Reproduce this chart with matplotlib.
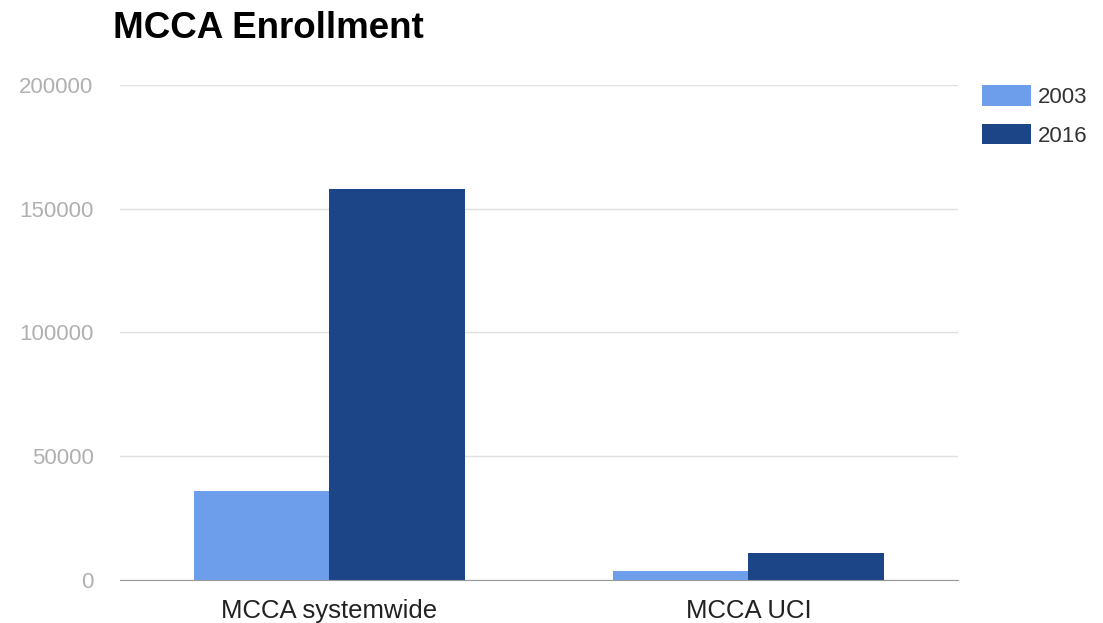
import numpy as np
import matplotlib.pyplot as plt

categories = ['MCCA systemwide', 'MCCA UCI']
years = ['2003', '2016']
enroll_2003 = [36000, 3600]
enroll_2016 = [158000, 10800]
colors = ['#6d9eeb', '#1c4587']

plt.rcParams['font.family'] = ['Liberation Sans', 'DejaVu Sans']

fig = plt.figure(figsize=(11.03, 6.23), dpi=100)
ax = fig.add_axes([0.1088, 0.069, 0.7597, 0.7946])

x = np.arange(len(categories))
w = 0.323
ax.bar(x - w / 2, enroll_2003, w, color=colors[0], label=years[0], zorder=3)
ax.bar(x + w / 2, enroll_2016, w, color=colors[1], label=years[1], zorder=3)

ax.set_xlim(-0.5, 1.5)
ax.set_ylim(0, 200000)
ax.set_yticks([0, 50000, 100000, 150000, 200000])
ax.set_yticklabels(['0', '50000', '100000', '150000', '200000'])
ax.set_xticks(x)
ax.set_xticklabels(categories)

ax.grid(axis='y', color='#e0e0e0', linewidth=1, zorder=0)
for s in ['top', 'right', 'left']:
    ax.spines[s].set_visible(False)
ax.spines['bottom'].set_color('#999999')
ax.spines['bottom'].set_zorder(4)
ax.tick_params(axis='y', length=0, labelsize=16, labelcolor='#b0b0b0', pad=19)
ax.tick_params(axis='x', length=0, labelsize=18.5, labelcolor='#222222', pad=13.5)

fig.text(0.1025, 0.955, 'MCCA Enrollment', fontsize=26.5, fontweight='bold', va='center', ha='left')

ax.legend(loc='upper left', bbox_to_anchor=(1.0286, 1.0), frameon=False, fontsize=16,
          handlelength=2.2, handleheight=1.05, handletextpad=0.3, labelspacing=0.72,
          borderpad=0, borderaxespad=0, labelcolor='#333333')

fig.savefig('out.png', dpi=100)
